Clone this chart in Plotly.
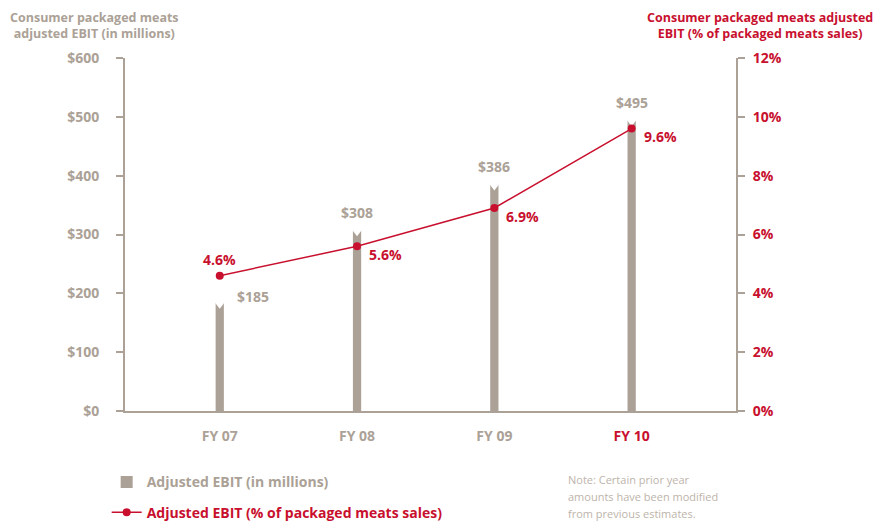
import plotly.graph_objects as go

categories = ["FY 07", "FY 08", "FY 09", "FY 10"]
ebit_millions = [185, 308, 386, 495]
ebit_pct = [4.6, 5.6, 6.9, 9.6]
left_ticks = [0, 100, 200, 300, 400, 500, 600]
right_ticks = [0, 2, 4, 6, 8, 10, 12]
note_lines = ["Note: Certain prior year", "amounts have been modified", "from previous estimates."]

TAUPE = "#aba196"
RED = "#c8102e"
NOTE = "#bdb4aa"
FONT = "Open Sans"

xpos = list(range(len(categories)))
ticktext = [c if i < len(categories) - 1 else f'<span style="color:{RED}">{c}</span>'
            for i, c in enumerate(categories)]

fig = go.Figure()

fig.add_trace(go.Bar(
    x=xpos, y=ebit_millions, width=0.06, marker=dict(color=TAUPE, line_width=0),
    name=f'<span style="color:{TAUPE}">Adjusted EBIT (in millions)</span>',
    yaxis="y", hoverinfo="skip", legendgroup="a",
))
# notch at the top of each bar
fig.add_trace(go.Scatter(
    x=xpos, y=ebit_millions, mode="markers",
    marker=dict(symbol="triangle-down", color="white", size=13, line_width=0),
    showlegend=False, yaxis="y", hoverinfo="skip",
))
fig.add_trace(go.Scatter(
    x=xpos, y=ebit_pct, mode="lines+markers",
    line=dict(color=RED, width=1.5), marker=dict(color=RED, size=8),
    name=f'<span style="color:{RED}">Adjusted EBIT (% of packaged meats sales)</span>',
    yaxis="y2", hoverinfo="skip", legendgroup="b",
))

annotations = []
# bar value labels
for i, v in enumerate(ebit_millions):
    if i == 0:
        annotations.append(dict(x=xpos[i], y=v, xref="x", yref="y", text=f"${v}",
                                showarrow=False, xshift=33, yshift=6,
                                font=dict(family=FONT, size=14, color=TAUPE, weight="bold")))
    else:
        annotations.append(dict(x=xpos[i], y=v, xref="x", yref="y", text=f"${v}",
                                showarrow=False, yshift=17,
                                font=dict(family=FONT, size=14, color=TAUPE, weight="bold")))
# percentage labels
for i, p in enumerate(ebit_pct):
    if i == 0:
        annotations.append(dict(x=xpos[i], y=p, xref="x", yref="y2", text=f"{p}%",
                                showarrow=False, yshift=16,
                                font=dict(family=FONT, size=14, color=RED, weight="bold")))
    else:
        annotations.append(dict(x=xpos[i], y=p, xref="x", yref="y2", text=f"{p}%",
                                showarrow=False, xanchor="left", xshift=10, yshift=-8,
                                font=dict(family=FONT, size=14, color=RED, weight="bold")))

# axis titles
annotations.append(dict(
    x=-0.05, y=1.0, xref="paper", yref="paper", xanchor="center", yanchor="bottom", yshift=14,
    text="Consumer packaged meats<br>adjusted EBIT (in millions)", showarrow=False, align="center",
    font=dict(family=FONT, size=12.5, color=TAUPE, weight="bold"),
))
annotations.append(dict(
    x=1.2275, y=1.0, xref="paper", yref="paper", xanchor="right", yanchor="bottom", yshift=14,
    text="Consumer packaged meats adjusted<br>EBIT (% of packaged meats sales)", showarrow=False,
    align="center", font=dict(family=FONT, size=12.5, color=RED, weight="bold"),
))
# note (one annotation per line for the looser line spacing)
for k, line in enumerate(note_lines):
    annotations.append(dict(
        x=0.722, y=-0.195, xref="paper", yref="paper", xanchor="left", yanchor="middle",
        yshift=-17 * k, text=line, showarrow=False, align="left",
        font=dict(family=FONT, size=11, color=NOTE),
    ))

fig.update_layout(
    width=878, height=524,
    margin=dict(l=125, r=142, t=58, b=113, autoexpand=False),
    paper_bgcolor="white", plot_bgcolor="white",
    font=dict(family=FONT),
    showlegend=True,
    legend=dict(x=-0.03, y=-0.157, xanchor="left", yanchor="top", orientation="v",
                font=dict(family=FONT, size=14, weight="bold"), tracegroupgap=9,
                bgcolor="rgba(0,0,0,0)"),
    xaxis=dict(range=[-0.69, 3.76], tickvals=xpos, ticktext=ticktext, showgrid=False,
               zeroline=False, showline=True, linecolor=TAUPE, linewidth=2, ticks="",
               ticklabelstandoff=11, automargin=False,
               tickfont=dict(family=FONT, size=14, color=TAUPE, weight="bold")),
    yaxis=dict(range=[0, 600], tickvals=left_ticks, ticktext=[f"${t}" for t in left_ticks],
               showgrid=False, zeroline=False, showline=True, linecolor=TAUPE, linewidth=2,
               ticks="outside", ticklen=7, tickcolor=TAUPE, tickwidth=2, ticklabelstandoff=14,
               automargin=False,
               tickfont=dict(family=FONT, size=14, color=TAUPE, weight="bold")),
    yaxis2=dict(range=[0, 12], tickvals=right_ticks, ticktext=[f"{t}%" for t in right_ticks],
                overlaying="y", side="right", showgrid=False, zeroline=False, showline=True,
                linecolor=TAUPE, linewidth=2, ticks="outside", ticklen=7, tickcolor=TAUPE,
                tickwidth=2, ticklabelstandoff=5, automargin=False,
                tickfont=dict(family=FONT, size=14, color=RED, weight="bold")),
    annotations=annotations,
)

fig.write_html("out.html", config={"displayModeBar": False},
               post_script="document.body.style.margin='0';")
